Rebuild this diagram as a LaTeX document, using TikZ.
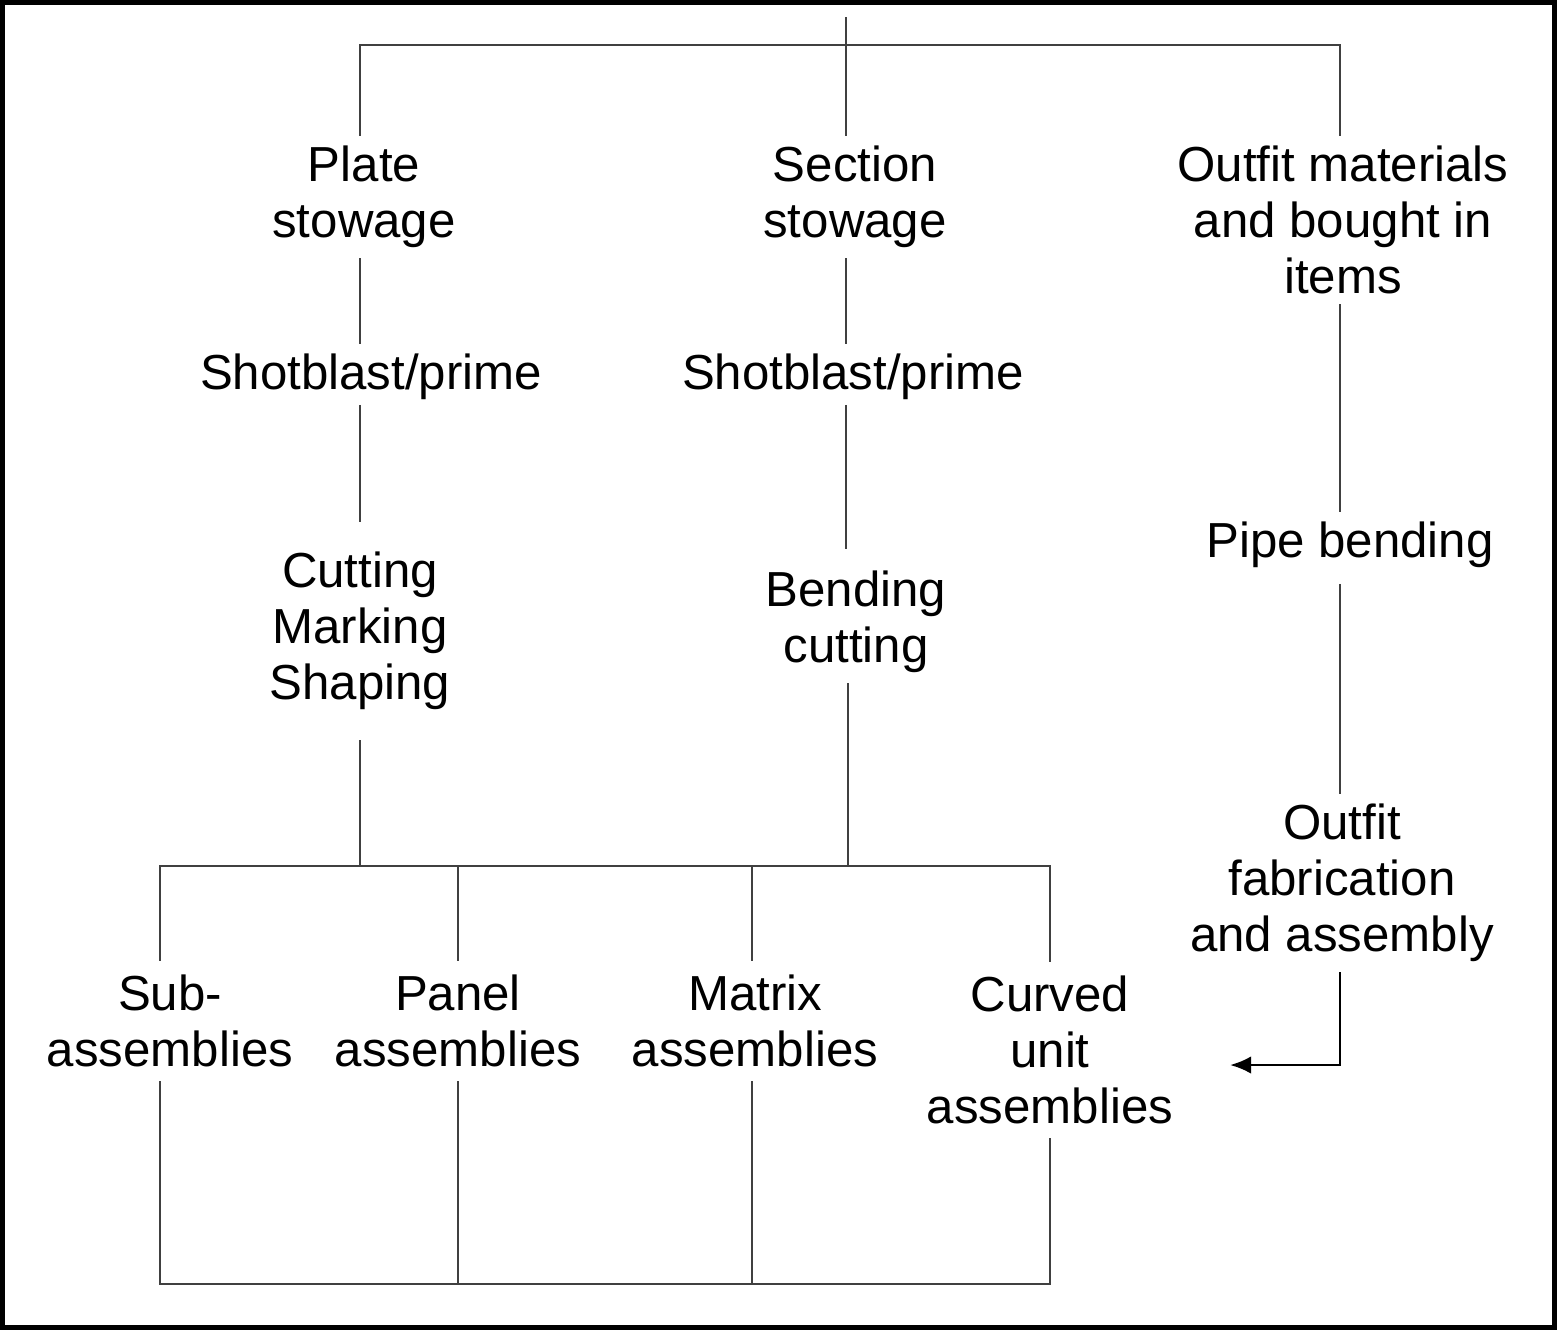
\documentclass[tikz,border=0pt]{standalone}
\usepackage{fontspec}
\setmainfont{Liberation Sans}
\usetikzlibrary{arrows.meta}
\begin{document}
\begin{tikzpicture}[
  lbl/.style={align=center, inner xsep=0pt, inner ysep=0.1cm, outer sep=0pt,
              font=\fontsize{14pt}{16pt}\selectfont},
  conn/.style={draw=black!75, line width=0.8pt},
  arr/.style={conn, draw=black, -{Latex[length=6pt,width=5pt]}}
]
\useasboundingbox (0,0) rectangle (15.57,-13.30);
\draw[line width=1.4pt] (0.025,-0.025) rectangle (15.545,-13.275);

% column coordinates
\coordinate (cL) at (3.60,0);
\coordinate (cM) at (8.46,0);
\coordinate (cM2) at (8.48,0);
\coordinate (cR) at (13.40,0);
\coordinate (topL) at (3.60,-0.45);
\coordinate (topR) at (13.40,-0.45);
\coordinate (topStub) at (8.46,-0.17);
\coordinate (barL) at (1.60,-8.66);
\coordinate (barR) at (10.50,-8.66);
\coordinate (botL) at (1.60,-12.84);
\coordinate (botR) at (10.50,-12.84);
\coordinate (xPan) at (4.58,0);
\coordinate (xMat) at (7.52,0);
\coordinate (arrowEnd) at (12.30,-10.65);

% nodes
\node[lbl] (plate) at (3.64,-1.97) {Plate\\stowage};
\node[lbl] (section) at (8.55,-1.97) {Section\\stowage};
\node[lbl] (outfitm) at (13.43,-2.20) {Outfit materials\\and bought in\\items};
\node[lbl] (shotL) at (3.71,-3.77) {Shotblast/prime};
\node[lbl] (shotM) at (8.53,-3.77) {Shotblast/prime};
\node[lbl, inner ysep=0.3cm] (cut) at (3.60,-6.31) {Cutting\\Marking\\Shaping};
\node[lbl] (bend) at (8.56,-6.22) {Bending\\cutting};
\node[lbl] (pipe) at (13.50,-5.45) {Pipe bending};
\node[lbl] (ofab) at (13.42,-8.83) {Outfit\\fabrication\\and assembly};
\node[lbl, inner ysep=0.14cm] (sub) at (1.70,-10.21) {Sub-\\assemblies};
\node[lbl, inner ysep=0.14cm] (panel) at (4.58,-10.21) {Panel\\assemblies};
\node[lbl, inner ysep=0.14cm] (matrix) at (7.55,-10.21) {Matrix\\assemblies};
\node[lbl, inner ysep=0.14cm] (curved) at (10.50,-10.50) {Curved\\unit\\assemblies};

% top distribution
\draw[conn] (plate.north -| cL) -- (topL) -- (topR) -- (outfitm.north -| cR);
\draw[conn] (topStub) -- (section.north -| cM);

% left column
\draw[conn] (plate.south -| cL) -- (shotL.north -| cL);
\draw[conn, shorten <=-0.05cm] (shotL.south -| cL) -- (cut.north -| cL);
\draw[conn] (cut.south -| cL) -- (cL |- barL);

% middle column
\draw[conn] (section.south -| cM) -- (shotM.north -| cM);
\draw[conn, shorten <=-0.05cm, shorten >=0.12cm] (shotM.south -| cM) -- (bend.north -| cM);
\draw[conn] (bend.south -| cM2) -- (cM2 |- barL);

% right column
\draw[conn] (outfitm.south -| cR) -- (pipe.north -| cR);
\draw[conn, shorten <=0.06cm] (pipe.south -| cR) -- (ofab.north -| cR);
\draw[arr] (ofab.south -| cR) |- (arrowEnd);

% assembly frame
\draw[conn] (sub.north -| barL) -- (barL) -- (barR) -- (curved.north -| barR);
\draw[conn] (panel.north -| xPan) -- (xPan |- barL);
\draw[conn] (matrix.north -| xMat) -- (xMat |- barL);
\draw[conn] (sub.south -| botL) -- (botL) -- (botR) -- (curved.south -| botR);
\draw[conn] (panel.south -| xPan) -- (xPan |- botL);
\draw[conn] (matrix.south -| xMat) -- (xMat |- botL);
\end{tikzpicture}
\end{document}
